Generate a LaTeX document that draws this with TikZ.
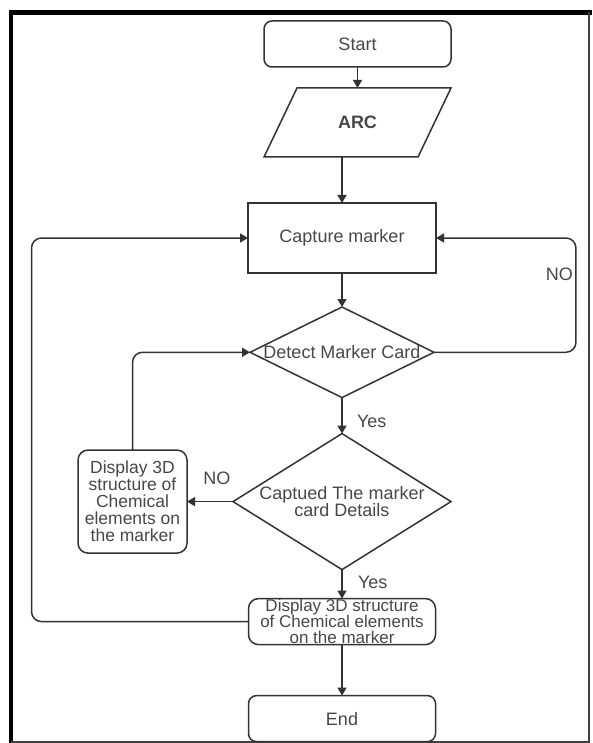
\documentclass[tikz,border=0pt]{standalone}
\usepackage{fontspec}
\setmainfont{Liberation Sans}
\usetikzlibrary{arrows.meta,positioning,shapes.geometric}

\begin{document}
\begin{tikzpicture}[
  x=1pt, y=-1pt,
  every node/.style={inner sep=0pt, outer sep=0pt, text=black!72, font=\fontsize{18}{15.5}\selectfont},
  term/.style={draw=black!80, line width=1.5pt, rounded corners=8pt, minimum width=187pt, minimum height=46pt},
  io/.style={minimum width=187pt, minimum height=69pt},
  proc/.style={draw=black!80, line width=1.5pt, minimum width=188pt, minimum height=70pt},
  decision/.style={draw=black!80, line width=1.5pt, diamond, align=center},
  model/.style={draw=black!80, line width=1.5pt, rounded corners=10pt, align=center},
  note/.style={font=\fontsize{18}{18}\selectfont},
  arrow/.style={-{Triangle[length=8pt,width=9pt]}, line width=1.5pt, draw=black!80}
]
\useasboundingbox (0,0) rectangle (592,743);
% frame
\draw[line width=4.5pt] (11,743) -- (11,12.5) -- (592,12.5);
\draw[line width=1.5pt, black!75] (589,12.5) -- (589,742) -- (11,742);

\node[term] (start) at (357.5,44) {Start};
\node[io, below=21pt of start] (arc) {\textbf{ARC}};
\draw[black!80, line width=1.5pt, line join=miter] ([xshift=33pt]arc.north west) -- (arc.north east)
  -- ([xshift=-33pt]arc.south east) -- (arc.south west) -- cycle;
\node[proc, below=46pt of arc, xshift=-15.5pt] (capture) {Capture marker};
\node[decision, below=34pt of capture, minimum width=183pt, minimum height=90pt, aspect=2.03] (detect) {Detect Marker Card};
\node[decision, below=36pt of detect, minimum width=218pt, minimum height=136pt, aspect=1.6] (captued) {Captued The marker\\card Details};
\node[model, below=29pt of captued, minimum width=187pt, minimum height=46pt, font=\fontsize{17}{16}\selectfont] (display) {Display 3D structure\\of Chemical elements\\on the marker};
\node[term, below=51pt of display] (end) {End};
\node[model, left=46pt of captued, minimum width=109pt, minimum height=103pt, font=\fontsize{17.5}{17}\selectfont] (show) {Display 3D\\structure of\\Chemical\\elements on\\the marker};

\draw[arrow] (start) -- (arc);
\draw[arrow] (arc.south -| capture.north) -- (capture.north);
\draw[arrow] (capture) -- (detect);
\draw[arrow] (detect) -- node[note, pos=0.67, right=15pt] {Yes} (captued);
\draw[arrow] (captued) -- node[note, pos=0.45, right=16pt] {Yes} (display);
\draw[arrow] (display) -- (end);
\draw[arrow] (captued) -- node[note, pos=0.35, above=17pt] {NO} (show);
\draw[arrow, rounded corners=10pt] (show.north) |- (detect.west);
\draw[arrow, rounded corners=10pt] (detect.east) -- ++(142,0) |- node[note, pos=0.34, left=3pt] {NO} (capture.east);
\draw[arrow, rounded corners=10pt] (display.west) -- ++(-217,0) |- (capture.west);
\end{tikzpicture}
\end{document}
